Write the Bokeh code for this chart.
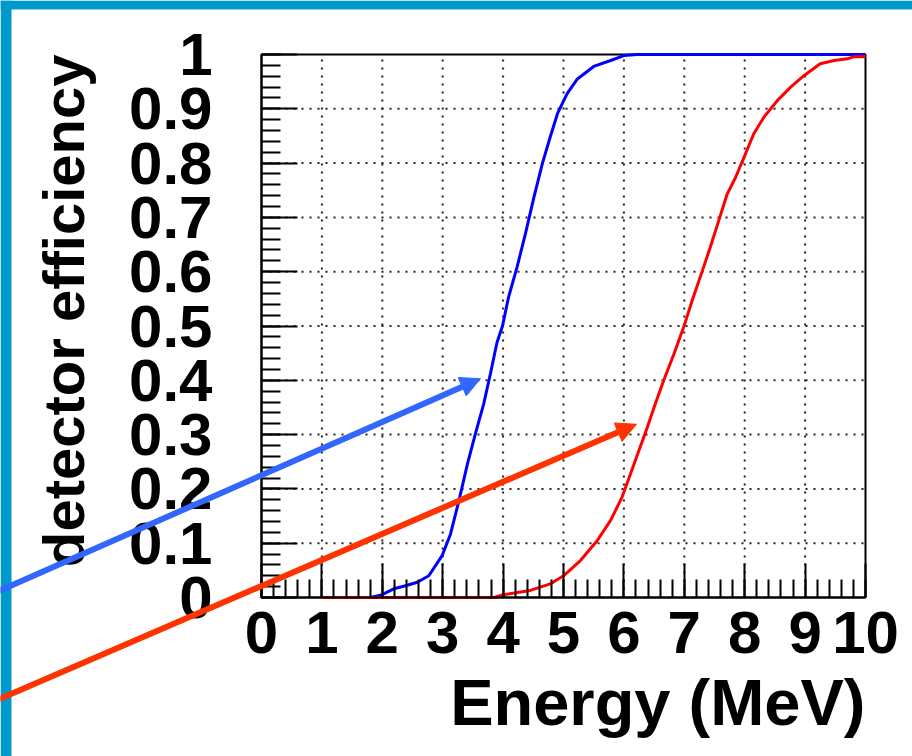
import math
from bokeh.plotting import figure
from bokeh.models import (Range1d, SingleIntervalTicker, CustomJSTickFormatter,
                          Arrow, NormalHead, ColumnDataSource, Label, BoxAnnotation)
from bokeh.embed import file_html
from bokeh.resources import INLINE

# ---- data ----
blue_energy = [1.80, 1.97, 2.19, 2.40, 2.58, 2.77, 2.99, 3.13, 3.27, 3.41, 3.54, 3.68,
               3.79, 3.90, 3.99, 4.09, 4.23, 4.37, 4.51, 4.65, 4.78, 4.90, 5.06, 5.23,
               5.50, 5.78, 6.00, 6.22, 10.0]
blue_eff = [0.0, 0.004, 0.016, 0.022, 0.028, 0.040, 0.077, 0.117, 0.179, 0.246, 0.301, 0.357,
            0.412, 0.470, 0.500, 0.553, 0.608, 0.670, 0.737, 0.799, 0.848, 0.891, 0.928, 0.955,
            0.978, 0.989, 0.998, 1.0, 1.0]

red_energy = [1.0, 3.85, 4.00, 4.45, 4.78, 5.00, 5.28, 5.56, 5.78, 5.97, 6.11, 6.25, 6.39,
              6.52, 6.66, 6.83, 6.99, 7.13, 7.30, 7.43, 7.57, 7.71, 7.85, 7.99, 8.15, 8.32,
              8.54, 8.76, 8.98, 9.25, 9.48, 9.70, 9.81, 10.0]
red_eff = [0.0, 0.0, 0.005, 0.013, 0.025, 0.040, 0.068, 0.105, 0.142, 0.185, 0.228, 0.271, 0.314,
           0.357, 0.400, 0.449, 0.498, 0.547, 0.602, 0.645, 0.694, 0.743, 0.774, 0.811, 0.854, 0.885,
           0.915, 0.940, 0.961, 0.983, 0.989, 0.992, 0.996, 0.996]

# axis extents and grid positions
x_min, x_max = 0, 10
y_min, y_max = 0, 1
x_grid = [1, 2, 3, 4, 5, 6, 7, 8, 9]
y_grid = [0.1, 0.2, 0.3, 0.4, 0.5, 0.6, 0.7, 0.8, 0.9]

# arrow annotations (start x, start y, end x, end y) in data units
blue_arrow = [-4.487, 0.005, 3.626, 0.403]
red_arrow = [-4.487, -0.194, 6.209, 0.319]

x_title = "Energy (MeV)"
y_title = "detector efficiency"

FONT = "Liberation Sans"

# ---- page geometry (pixels) ----
W, H = 912, 756
FX0, FX1, FY0, FY1 = 261, 865, 54, 597          # frame of the 0..10 x 0..1 box
SX = (FX1 - FX0) / (x_max - x_min)
SY = (FY1 - FY0) / (y_max - y_min)
def dx(px):
    return x_min + (px - FX0) / SX
def dy(py):
    return y_min + (FY1 - py) / SY

p = figure(width=W, height=H, output_backend="svg", toolbar_location=None,
           x_range=Range1d(dx(0), dx(W)), y_range=Range1d(dy(H), dy(0)),
           min_border=0, background_fill_color="white", border_fill_color="white")
p.outline_line_color = None
p.grid.visible = False

# blue page border (top and left)
BLUE = "#0099cc"
p.add_layout(BoxAnnotation(left=dx(0), right=dx(11), bottom=dy(H), top=dy(0),
                           fill_color=BLUE, fill_alpha=1, line_alpha=0))
p.add_layout(BoxAnnotation(left=dx(0), right=dx(W), bottom=dy(9), top=dy(0),
                           fill_color=BLUE, fill_alpha=1, line_alpha=0))

# axes fixed on the box edges
xa = p.xaxis[0]
ya = p.yaxis[0]
xa.fixed_location = y_min
ya.fixed_location = x_min
xa.bounds = (x_min, x_max)
ya.bounds = (y_min, y_max)
xa.ticker = SingleIntervalTicker(interval=1, num_minor_ticks=5)
ya.ticker = SingleIntervalTicker(interval=0.1, num_minor_ticks=5)
ya.formatter = CustomJSTickFormatter(code="return tick.toFixed(1).replace(/\\.0$/, '');")

for ax in (xa, ya):
    ax.axis_line_color = "black"
    ax.axis_line_width = 2
    ax.major_tick_out = 0
    ax.minor_tick_out = 0
    ax.major_tick_line_color = "black"
    ax.major_tick_line_width = 2
    ax.minor_tick_line_color = "black"
    ax.minor_tick_line_width = 2
    ax.major_label_text_font = FONT
    ax.major_label_text_font_style = "bold"
    ax.major_label_text_font_size = "60px"
    ax.major_label_text_color = "black"

xa.major_tick_in = 34
xa.minor_tick_in = 18
ya.major_tick_in = 36
ya.minor_tick_in = 19
xa.major_label_standoff = 14
ya.major_label_standoff = 49

# dotted grid
p.segment(x0=x_grid, y0=[y_min] * len(x_grid), x1=x_grid, y1=[y_max] * len(x_grid),
          line_color="#222222", line_width=2, line_dash="2 6")
p.segment(x0=[x_min] * len(y_grid), y0=y_grid, x1=[x_max] * len(y_grid), y1=y_grid,
          line_color="#222222", line_width=2, line_dash="2 6")

# box outline
p.quad(left=[x_min], right=[x_max], bottom=[y_min], top=[y_max],
       fill_alpha=0, line_color="black", line_width=2)

# curves
blue_src = ColumnDataSource(dict(x=blue_energy, y=blue_eff))
red_src = ColumnDataSource(dict(x=red_energy, y=red_eff))
p.line("x", "y", source=blue_src, line_color="#0000ff", line_width=3)
p.line("x", "y", source=red_src, line_color="#ff0000", line_width=3)

# axis titles
p.add_layout(Label(x=x_max, y=dy(702), text=x_title, text_align="right",
                   text_baseline="alphabetic", text_font=FONT, text_font_style="bold",
                   text_font_size="65px", text_color="black"))
p.add_layout(Label(x=dx(63), y=y_max, text=y_title, angle=math.pi / 2, text_align="right",
                   text_baseline="alphabetic", text_font=FONT, text_font_style="bold",
                   text_font_size="58px", text_color="black"))

# arrows
for (x0, y0, x1, y1), col in ((blue_arrow, "#3366ff"), (red_arrow, "#ff3300")):
    p.add_layout(Arrow(x_start=x0, y_start=y0, x_end=x1, y_end=y1,
                       line_color=col, line_width=6,
                       end=NormalHead(size=20, fill_color=col, line_color=col, line_width=1)))

open("out.html", "w").write(file_html(p, INLINE))
